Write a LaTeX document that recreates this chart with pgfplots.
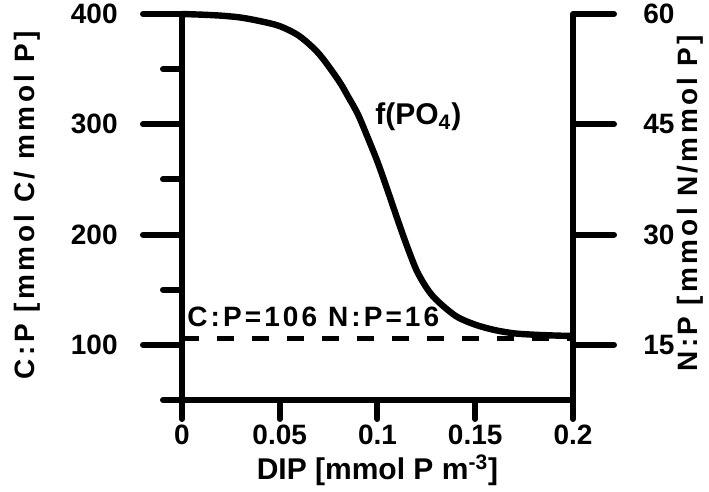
\documentclass[border=0pt]{standalone}
\usepackage{fontspec}
\setmainfont{Liberation Sans}
\usepackage{graphicx}
\usepackage{pgfplots}
\pgfplotsset{compat=1.18}
\newcommand{\fs}[1]{\fontsize{#1}{#1}\selectfont\bfseries}
\begin{document}
\begin{tikzpicture}[line cap=round]
\pgfplotsset{
 base/.style={
  at={(0,0)}, anchor=south west, scale only axis,
  width=195.5pt, height=193pt,
  xmin=0, xmax=0.2,
  axis line style={line width=3pt, -},
  tick style={line width=3pt, black, line cap=round},
  tick align=outside,
  /pgf/number format/assume math mode=true,
  tick label style={font=\fs{14}, inner sep=0pt},
  clip=false,
 }
}
% x axis
\begin{axis}[base, ymin=50, ymax=400, axis x line*=bottom, hide y axis,
  xtick={0,0.05,0.1,0.15,0.2}, xticklabels={0,0.05,0.1,0.15,0.2},
  major tick length=9.5pt,
  xticklabel style={anchor=north, yshift=-3pt}]
\end{axis}
% left axis with data
\begin{axis}[base, ymin=50, ymax=400, axis y line*=left, hide x axis,
  ytick={100,200,300,400}, minor ytick={50,150,250,350},
  major tick length=19.5pt, minor tick length=9.5pt,
  yticklabel style={anchor=east, xshift=-12.5pt}]
\addplot[line width=3.2pt, smooth, black] coordinates {
(0,400) (0.01,399.4) (0.02,398.5) (0.03,396.8) (0.04,393.5) (0.05,389)
(0.06,380) (0.07,364) (0.08,340) (0.085,325) (0.09,309) (0.095,288) (0.1,266)
(0.105,241) (0.11,215) (0.115,190) (0.12,167.5) (0.125,152) (0.13,141)
(0.14,126.2) (0.15,118.3) (0.16,113.4) (0.17,110.4) (0.18,109.2) (0.19,108.5) (0.2,108)};
\addplot[line width=2.5pt, black, dash pattern=on 8.5pt off 9pt] coordinates {(0,106) (0.2,106)};
\node[anchor=base west, inner sep=0pt, font=\fs{15}] at (axis cs:0.0987,299.4) {f(PO\textsubscript{4})};
\node[anchor=base west, inner sep=0pt, font={\fs{14}\addfontfeatures{LetterSpace=11}}] at (axis cs:0.0026,116.2) {C:P=106 N:P=16};
\node[anchor=base, rotate=90, inner sep=0pt, font={\fs{14}\addfontfeatures{LetterSpace=13}}] at (axis description cs:-0.376,0.504) {C:P [mmol C/ mmol P]};
\node[anchor=base, inner sep=0pt, font=\fs{15}] at (axis description cs:0.5,-0.207) {DIP [mmol P m\textsuperscript{-3}]};
\end{axis}
% right axis
\begin{axis}[base, ymin=7.5, ymax=60, axis y line*=right, hide x axis,
  ytick={15,30,45,60}, major tick length=20.5pt,
  yticklabel style={anchor=west, xshift=14.5pt}]
\node[anchor=base, rotate=90, inner sep=0pt, font={\fs{14}\addfontfeatures{LetterSpace=12}}] at (axis description cs:1.318,0.51) {N:P [mmol N/mmol P]};
\end{axis}
\pgfresetboundingbox
\path (-91pt,-46pt) rectangle (263.5pt,200pt);
\end{tikzpicture}
\end{document}
